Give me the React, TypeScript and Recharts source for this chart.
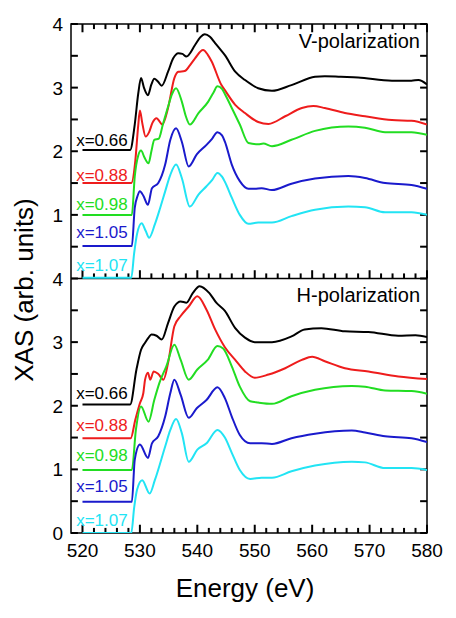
import { LineChart, Line, XAxis, YAxis, ReferenceDot, ReferenceArea, ReferenceLine, Label } from "recharts";

type Pt = [number, number];

const FONT = "Liberation Sans, Arial, Helvetica, sans-serif";

const compositions = ["x=0.66", "x=0.88", "x=0.98", "x=1.05", "x=1.07"];
const colors = ["#000000", "#ee1c1c", "#22dd22", "#1a1acc", "#22e4f4"];

const energyTicks = [
  520, 522, 524, 526, 528, 530, 532, 534, 536, 538, 540, 542, 544, 546, 548, 550,
  552, 554, 556, 558, 560, 562, 564, 566, 568, 570, 572, 574, 576, 578, 580,
];
const xasTicks = [0, 0.5, 1, 1.5, 2, 2.5, 3, 3.5, 4];

// V-polarization (top panel), [energy eV, XAS]
const v066: Pt[] = [
  [520, 2.02], [528.3, 2.02], [529.1, 2.42], [529.7, 2.9], [530.2, 3.15], [530.7, 3.0],
  [531.4, 2.88], [532, 3.05], [532.5, 3.14], [533.1, 3.1], [533.8, 3.03], [534.9, 3.25],
  [535.8, 3.46], [536.7, 3.54], [537.4, 3.53], [538.1, 3.49], [539.6, 3.67], [540.5, 3.79],
  [541.3, 3.84], [542.2, 3.8], [543.1, 3.7], [544, 3.6], [544.8, 3.51], [546.6, 3.25],
  [548.3, 3.12], [550.6, 2.99], [553, 2.95], [556.4, 3.04], [560.5, 3.17], [562.2, 3.18],
  [565, 3.17], [568, 3.16], [573.9, 3.11], [577.3, 3.11], [578.5, 3.12], [580, 3.05],
];
const v088: Pt[] = [
  [520, 1.5], [528.5, 1.5], [529.2, 1.85], [529.7, 2.4], [530, 2.64], [530.4, 2.45],
  [531, 2.23], [531.6, 2.3], [532.2, 2.45], [532.9, 2.52], [533.9, 2.42], [534.9, 2.68],
  [536, 3.15], [536.7, 3.25], [537.8, 3.26], [538.7, 3.35], [539.6, 3.46], [541, 3.59],
  [541.8, 3.52], [542.5, 3.41], [544.2, 3.04], [544.8, 2.96], [546.6, 2.73], [548.3, 2.6],
  [550.6, 2.46], [552.4, 2.43], [555.3, 2.55], [558.2, 2.68], [560.2, 2.71], [562.2, 2.68],
  [565.7, 2.6], [569.2, 2.55], [573.9, 2.49], [577.3, 2.48], [580, 2.42],
];
const v098: Pt[] = [
  [520, 1.0], [528.6, 1.0], [529.1, 1.6], [529.7, 1.93], [530.2, 2.01], [530.8, 1.9],
  [531.5, 1.81], [532, 2.0], [532.5, 2.18], [533.3, 2.2], [534, 2.42], [534.9, 2.7],
  [535.6, 2.9], [536.3, 2.99], [537.3, 2.78], [538, 2.55], [538.7, 2.42], [540.2, 2.6],
  [541.9, 2.78], [542.8, 2.92], [543.5, 3.02], [544.3, 2.98], [544.8, 2.9], [546, 2.68],
  [547.4, 2.42], [548.9, 2.13], [550.6, 2.11], [551.5, 2.12], [553, 2.08], [556.4, 2.18],
  [560.5, 2.32], [566.3, 2.39], [569.2, 2.37], [572.7, 2.3], [577.3, 2.3], [580, 2.26],
];
const v105: Pt[] = [
  [520, 0.51], [528.6, 0.51], [529.1, 1.11], [529.6, 1.3], [530, 1.37], [530.6, 1.3],
  [531.4, 1.16], [532.1, 1.42], [533.2, 1.5], [534.4, 1.79], [535.3, 2.18], [536.3, 2.36],
  [537.3, 2.15], [538.5, 1.76], [539.9, 1.95], [541.6, 2.1], [542.6, 2.2], [543.5, 2.3],
  [544.3, 2.25], [544.8, 2.15], [546, 1.79], [547.4, 1.53], [548.9, 1.41], [550, 1.41],
  [551.2, 1.42], [553, 1.39], [556.4, 1.49], [560.5, 1.57], [566.3, 1.61], [569.2, 1.58],
  [572.7, 1.5], [577.3, 1.47], [580, 1.41],
];
const v107: Pt[] = [
  [520, 0.01], [528.5, 0.01], [529, 0.4], [529.5, 0.7], [530.3, 0.87], [531, 0.75],
  [531.6, 0.64], [532.6, 0.85], [533.5, 1.1], [534.4, 1.37], [535.3, 1.63], [536.3, 1.79],
  [537.3, 1.58], [538.7, 1.13], [540.2, 1.32], [541.6, 1.45], [542.6, 1.55], [543.5, 1.66],
  [544.3, 1.6], [544.8, 1.52], [546, 1.27], [547.4, 1.0], [548.9, 0.86], [550.6, 0.88],
  [553, 0.88], [556.4, 0.98], [560.5, 1.08], [566.3, 1.13], [569.2, 1.12], [572.7, 1.04],
  [577.3, 1.04], [580, 1.0],
];

// H-polarization (bottom panel)
const h066: Pt[] = [
  [520, 2.02], [528.3, 2.02], [529.4, 2.57], [530.2, 2.88], [530.9, 2.99], [531.5, 3.07],
  [532, 3.12], [532.9, 3.1], [533.8, 3.04], [534.9, 3.3], [536, 3.56], [537.1, 3.64],
  [538.1, 3.62], [539.2, 3.77], [540.4, 3.88], [542.1, 3.77], [543.3, 3.62], [544.8, 3.49],
  [546.6, 3.22], [548.3, 3.07], [550, 3.0], [553, 3.0], [556.4, 3.09], [558.7, 3.2],
  [561.6, 3.22], [565.7, 3.17], [569.8, 3.16], [575, 3.1], [578, 3.11], [580, 3.08],
];
const h088: Pt[] = [
  [520, 1.49], [528.4, 1.49], [529.2, 1.78], [530, 2.04], [530.6, 2.2], [530.9, 2.41],
  [531.4, 2.52], [531.8, 2.41], [532.4, 2.54], [533.2, 2.5], [534.1, 2.41], [534.9, 2.67],
  [536, 3.25], [537.1, 3.41], [538.5, 3.56], [540, 3.72], [541.6, 3.51], [543.1, 3.2],
  [544.8, 2.92], [546.6, 2.72], [548.3, 2.54], [550, 2.44], [552.4, 2.49], [555.3, 2.59],
  [558.2, 2.72], [560, 2.77], [562.2, 2.7], [565.7, 2.59], [569.8, 2.54], [575, 2.46],
  [580, 2.42],
];
const h098: Pt[] = [
  [520, 0.99], [528.6, 0.99], [529.3, 1.62], [530.2, 1.99], [531.5, 1.75], [532.5, 2.09],
  [533.4, 2.36], [534.6, 2.62], [536, 2.96], [537.1, 2.72], [538.5, 2.41], [540, 2.57],
  [541.8, 2.72], [543.5, 2.94], [544.5, 2.9], [546, 2.62], [547.4, 2.3], [549.2, 2.07],
  [550.6, 2.05], [553, 2.03], [556.4, 2.15], [560.5, 2.25], [566.9, 2.31], [569.2, 2.3],
  [572.7, 2.24], [577.3, 2.23], [580, 2.19],
];
const h105: Pt[] = [
  [520, 0.49], [528.6, 0.49], [529.1, 1.15], [530, 1.39], [531.4, 1.18], [532.1, 1.41],
  [533.2, 1.52], [534.4, 1.83], [535.3, 2.2], [536, 2.41], [537.1, 2.17], [538.5, 1.81],
  [539.9, 1.96], [541.6, 2.09], [543.5, 2.29], [544.8, 2.12], [546, 1.83], [547.4, 1.54],
  [549.2, 1.41], [551.2, 1.41], [553, 1.4], [556.4, 1.49], [560.5, 1.56], [566.9, 1.61],
  [569.2, 1.58], [572.7, 1.52], [577.3, 1.49], [580, 1.43],
];
const h107: Pt[] = [
  [520, 0.0], [528.5, 0.0], [529, 0.4], [529.5, 0.68], [530.4, 0.83], [531.7, 0.62],
  [532.6, 0.83], [534.4, 1.36], [535.3, 1.62], [536.3, 1.79], [537.3, 1.57], [538.5, 1.12],
  [540, 1.31], [541.6, 1.41], [543.5, 1.62], [544.8, 1.5], [546, 1.26], [547.4, 0.99],
  [549.2, 0.85], [551.2, 0.87], [553, 0.87], [556.4, 0.97], [560.5, 1.06], [566.9, 1.12],
  [569.2, 1.11], [572.7, 1.02], [577.3, 1.02], [580, 0.99],
];

const vSeries = [v066, v088, v098, v105, v107];
const hSeries = [h066, h088, h098, h105, h107];

// where the composition labels sit (XAS value of text baseline)
const vLabelY = [2.08, 1.53, 1.08, 0.63, 0.12];
const hLabelY = [2.11, 1.6, 1.13, 0.65, 0.11];
const labelEnergy = 518.9;

// one chart, two stacked panels: bottom panel on [0,4] of an 8-unit axis,
// top panel on its own hidden axis so its 0..4 lands in the upper half
const X_MIN = 518;
const X_MAX = 580;
const PANEL = 4;
const stackedTicks = [...xasTicks, ...xasTicks.slice(1).map((t) => t + PANEL)];

// inward tick lengths, in axis units (~63.6 px per XAS unit, ~5.74 px per eV)
const MAJOR_X_TICK = 0.13;
const MINOR_X_TICK = 0.08;
const Y_TICK = 1.2;

const toRows = (pts: Pt[]) => pts.map(([e, v]) => ({ e, v }));

function XTickLabel(props: any) {
  const { x, y, payload } = props;
  if (payload.value % 10 !== 0) return <g />;
  return (
    <text x={x} y={y + 24} textAnchor="middle" fontSize={19} fontFamily={FONT} fill="#000">
      {payload.value}
    </text>
  );
}

function YTickLabel(props: any) {
  const { x, y, payload } = props;
  const v = payload.value > PANEL ? payload.value - PANEL : payload.value;
  if (!Number.isInteger(v)) return <g />;
  return (
    <text x={x - 8} y={y + 7} textAnchor="end" fontSize={19} fontFamily={FONT} fill="#000">
      {v}
    </text>
  );
}

function seg(key: string, a: { x: number; y: number }, b: { x: number; y: number }) {
  return (
    <ReferenceLine
      key={key}
      xAxisId="e"
      yAxisId="bot"
      segment={[a, b]}
      stroke="#000000"
      strokeWidth={2}
      ifOverflow="visible"
    />
  );
}

function tickMarks() {
  const out: any[] = [];
  energyTicks.forEach((e) => {
    const len = e % 10 === 0 ? MAJOR_X_TICK : MINOR_X_TICK;
    out.push(seg("xt" + e, { x: e, y: 2 * PANEL }, { x: e, y: 2 * PANEL - len }));
    out.push(seg("xm" + e, { x: e, y: PANEL }, { x: e, y: PANEL + len }));
    out.push(seg("xb" + e, { x: e, y: 0 }, { x: e, y: len }));
  });
  stackedTicks.forEach((v) => {
    out.push(seg("yl" + v, { x: X_MIN, y: v }, { x: X_MIN + Y_TICK, y: v }));
    out.push(seg("yr" + v, { x: X_MAX, y: v }, { x: X_MAX - Y_TICK, y: v }));
  });
  return out;
}

function panelTitle(key: string, y: number, text: string, dy: number) {
  return (
    <ReferenceDot
      key={key}
      xAxisId="e"
      yAxisId="bot"
      x={X_MAX}
      y={y}
      r={0}
      fill="none"
      stroke="none"
      label={(p: any) => (
        <text
          x={p.viewBox.x - 7}
          y={p.viewBox.y + dy}
          textAnchor="end"
          fontSize={20}
          fontFamily={FONT}
          fill="#000"
        >
          {text}
        </text>
      )}
    />
  );
}

export default function App() {
  return (
    <div style={{ position: "absolute", left: 0, top: 0, width: 456, height: 618, background: "#fff" }}>
      <LineChart width={456} height={618} margin={{ top: 24, right: 29, bottom: 0, left: 0 }}>
        <XAxis
          xAxisId="e"
          orientation="bottom"
          type="number"
          dataKey="e"
          domain={[X_MIN, X_MAX]}
          allowDataOverflow
          ticks={energyTicks}
          interval={0}
          height={85}
          tickSize={0}
          tickMargin={0}
          axisLine={false}
          tickLine={false}
          tick={(p: any) => <XTickLabel {...p} />}
        >
          <Label
            content={(p: any) => (
              <text
                x={p.viewBox.x + p.viewBox.width / 2 - 4}
                y={p.viewBox.y + 64}
                textAnchor="middle"
                fontSize={26}
                fontFamily={FONT}
                fill="#000"
              >
                Energy (eV)
              </text>
            )}
          />
        </XAxis>
        <YAxis
          yAxisId="bot"
          orientation="left"
          type="number"
          domain={[0, 2 * PANEL]}
          allowDataOverflow
          ticks={stackedTicks}
          interval={0}
          width={71}
          tickSize={0}
          tickMargin={0}
          axisLine={false}
          tickLine={false}
          tick={(p: any) => <YTickLabel {...p} />}
        >
          <Label
            content={() => (
              <text
                x={33}
                y={290}
                transform="rotate(-90, 33, 290)"
                textAnchor="middle"
                fontSize={26}
                fontFamily={FONT}
                fill="#000"
              >
                XAS (arb. units)
              </text>
            )}
          />
        </YAxis>
        <YAxis yAxisId="top" hide type="number" domain={[-PANEL, PANEL]} allowDataOverflow />
        <ReferenceArea
          xAxisId="e"
          yAxisId="bot"
          x1={X_MIN}
          x2={X_MAX}
          y1={0}
          y2={2 * PANEL}
          fill="none"
          fillOpacity={0}
          stroke="#000"
          strokeWidth={1.5}
          ifOverflow="visible"
        />
        <ReferenceLine xAxisId="e" yAxisId="bot" y={PANEL} stroke="#000" strokeWidth={1.5} />
        {tickMarks()}
        {vSeries.map((pts, i) => (
          <Line
            key={"v" + i}
            xAxisId="e"
            yAxisId="top"
            data={toRows(pts)}
            dataKey="v"
            type="monotone"
            stroke={colors[i]}
            strokeWidth={2}
            dot={false}
            activeDot={false}
            isAnimationActive={false}
          />
        ))}
        {hSeries.map((pts, i) => (
          <Line
            key={"h" + i}
            xAxisId="e"
            yAxisId="bot"
            data={toRows(pts)}
            dataKey="v"
            type="monotone"
            stroke={colors[i]}
            strokeWidth={2}
            dot={false}
            activeDot={false}
            isAnimationActive={false}
          />
        ))}
        {vLabelY.map((ly, i) => (
          <ReferenceDot
            key={"vl" + i}
            xAxisId="e"
            yAxisId="top"
            x={labelEnergy}
            y={ly}
            r={0}
            fill="none"
            stroke="none"
            label={(p: any) => (
              <text x={p.viewBox.x} y={p.viewBox.y} fontSize={17} fontFamily={FONT} fill={colors[i]}>
                {compositions[i]}
              </text>
            )}
          />
        ))}
        {hLabelY.map((ly, i) => (
          <ReferenceDot
            key={"hl" + i}
            xAxisId="e"
            yAxisId="bot"
            x={labelEnergy}
            y={ly}
            r={0}
            fill="none"
            stroke="none"
            label={(p: any) => (
              <text x={p.viewBox.x} y={p.viewBox.y} fontSize={17} fontFamily={FONT} fill={colors[i]}>
                {compositions[i]}
              </text>
            )}
          />
        ))}
        {panelTitle("vt", 2 * PANEL, "V-polarization", 24)}
        {panelTitle("ht", PANEL, "H-polarization", 23)}
      </LineChart>
    </div>
  );
}
